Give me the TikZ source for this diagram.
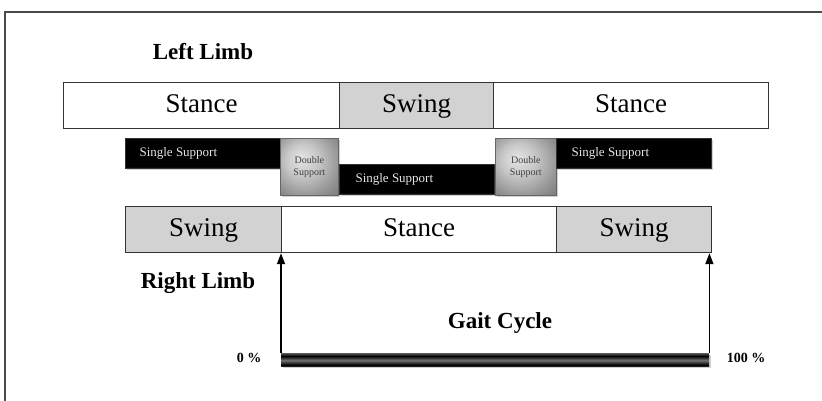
\documentclass[tikz,border=0pt]{standalone}
\usepackage{fontspec}
\setmainfont{Liberation Serif}
\usetikzlibrary{arrows.meta,shadows}

% glossy black bar: grey rim at top, black body, grey band at the bottom
\pgfdeclareverticalshading{glossbar}{100bp}{%
  color(0bp)=(black!70); color(10bp)=(black!45); color(28bp)=(black);
  color(80bp)=(black); color(90bp)=(black!55); color(100bp)=(black!30)}
% striped time bar
\pgfdeclareverticalshading{stripebar}{100bp}{%
  color(0bp)=(black); color(16bp)=(black!60); color(30bp)=(black);
  color(48bp)=(black!55); color(64bp)=(black); color(82bp)=(black!45);
  color(100bp)=(black!25)}
% light centre towards the upper left, darker rim
\pgfdeclareradialshading{supportglow}{\pgfpoint{-8bp}{8bp}}{%
  color(0bp)=(black!10); color(14bp)=(black!22); color(30bp)=(black!42);
  color(45bp)=(black!58); color(60bp)=(black!68)}

\definecolor{framegrey}{HTML}{4A4A4A}
\definecolor{edgegrey}{HTML}{333333}
\definecolor{swinggrey}{HTML}{D2D2D2}
\definecolor{labelgrey}{HTML}{E6E6E6}

\tikzset{
  phase/.style={draw=edgegrey, line width=1.2pt, inner sep=0pt, anchor=north west,
    text height=19pt, text depth=5pt, font=\fontsize{27}{30}\selectfont},
  stancebox/.style={phase, fill=white},
  swingbox/.style={phase, fill=swinggrey},
  single/.style={inner sep=0pt, anchor=north west, shading=glossbar, draw=black!80,
    line width=0.6pt, drop shadow={shadow xshift=2pt, shadow yshift=-2pt, fill=black!30, opacity=.6}},
  singlelabel/.style={anchor=west, text=labelgrey, font=\fontsize{13}{14}\selectfont},
  double/.style={inner sep=0pt, anchor=north west, draw=black!60, line width=0.6pt,
    shading=supportglow, align=center, text=black!75,
    font=\fontsize{10}{12}\selectfont,
    drop shadow={shadow xshift=2pt, shadow yshift=-2pt, fill=black!30, opacity=.6}},
  heading/.style={font=\fontsize{23}{26}\selectfont\bfseries},
  pct/.style={font=\fontsize{14}{16}\selectfont\bfseries},
  up/.style={-{Triangle[length=11pt,width=8pt]}, line width=1.5pt, black},
}

\begin{document}
\begin{tikzpicture}[x=1pt, y=-1pt]
  \useasboundingbox (0,0) rectangle (822,401);

  % page frame
  \draw[framegrey, line width=1.5pt] (822,12) -- (5,12) -- (5,401);

  % left limb phases
  \node[heading] (lefttitle) at (203,52) {Left Limb};
  \node[stancebox, minimum width=276pt, minimum height=46pt] (l1) at (63,82) {Stance};
  \node[swingbox,  minimum width=154pt, minimum height=46pt] (l2) at (339,82) {Swing};
  \node[stancebox, minimum width=275pt, minimum height=46pt] (l3) at (493,82) {Stance};

  % support periods
  \node[single, minimum width=155pt, minimum height=30pt] (s1) at (125,138) {};
  \node[singlelabel] at ([xshift=11pt]s1.west) {Single Support};
  \node[double, minimum width=58pt, minimum height=57pt] (d1) at (280,138) {Double\\Support};
  \node[single, minimum width=155pt, minimum height=30pt] (s2) at (339,164) {};
  \node[singlelabel] at ([xshift=13pt]s2.west) {Single Support};
  \node[double, minimum width=61pt, minimum height=57pt] (d2) at (495,138) {Double\\Support};
  \node[single, minimum width=155pt, minimum height=30pt] (s3) at (556,138) {};
  \node[singlelabel] at ([xshift=12pt]s3.west) {Single Support};

  % right limb phases
  \node[swingbox,  minimum width=156pt, minimum height=46pt] (r1) at (125,206) {Swing};
  \node[stancebox, minimum width=275pt, minimum height=46pt] (r2) at (281,206) {Stance};
  \node[swingbox,  minimum width=155pt, minimum height=46pt] (r3) at (556,206) {Swing};
  \node[heading] (righttitle) at (198,283) {Right Limb};

  % gait cycle
  \node[heading] (cycle) at (500,323) {Gait Cycle};
  \node[inner sep=0pt, anchor=north west, minimum width=428pt, minimum height=13pt,
    shading=stripebar, drop shadow={shadow xshift=1.5pt, shadow yshift=-2pt, fill=black!30, opacity=.6}]
    (gait) at (281,353) {};
  \node[pct] (p0) at (249,358) {0 \%};
  \node[pct] (p100) at (746,358) {100 \%};

  \draw[up] (gait.north west) -- (gait.north west |- r1.south);
  \draw[up] (gait.north east) -- (gait.north east |- r3.south);
\end{tikzpicture}
\end{document}
